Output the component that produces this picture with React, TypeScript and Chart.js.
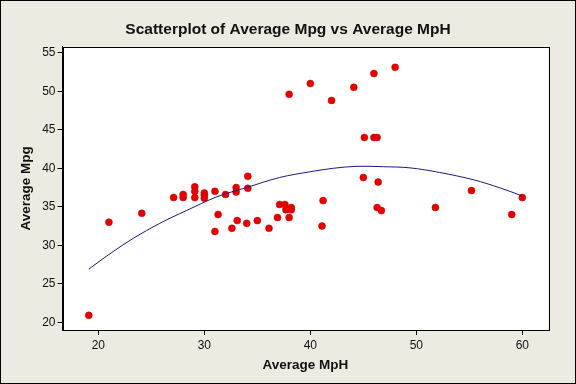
import React, { useEffect, useRef } from "react";
import { Chart, registerables } from "chart.js";

Chart.register(...registerables);

const mph = [19.1, 21.0, 24.1, 27.1, 28.0, 28.0, 29.1, 29.1, 29.1, 30.0, 30.0, 30.0, 31.0, 32.0, 33.0, 33.0, 34.1, 34.1, 31.3, 31.0, 32.6, 33.1, 34.0, 35.0, 36.1, 36.9, 37.1, 37.6, 37.7, 38.2, 38.2, 38.0, 38.0, 40.0, 42.0, 44.1, 46.0, 48.0, 45.1, 46.0, 46.3, 45.0, 46.4, 41.2, 41.1, 46.3, 46.7, 51.8, 55.2, 59.0, 60.0];
const mpg = [20.9, 33.0, 34.15, 36.2, 36.6, 36.2, 37.6, 37.0, 36.2, 36.8, 36.5, 36.1, 37.0, 36.6, 37.5, 36.9, 38.95, 37.4, 34.0, 31.8, 32.2, 33.2, 32.85, 33.2, 32.2, 33.6, 35.3, 35.3, 34.6, 34.9, 34.6, 33.6, 49.6, 51.0, 48.8, 50.5, 52.3, 53.1, 44.0, 44.0, 44.0, 38.8, 38.2, 35.8, 32.5, 34.9, 34.5, 34.9, 37.1, 34.0, 36.2];

const fitX = [19.1, 21.1, 23.3, 25.8, 28.3, 31.2, 34.0, 37.1, 40.0, 42.2, 44.4, 46.9, 49.4, 52.2, 55.4, 57.9, 60.0];
const fitY = [26.9, 28.9, 30.9, 32.85, 34.5, 36.3, 37.5, 38.8, 39.55, 40.0, 40.25, 40.2, 40.05, 39.45, 38.5, 37.45, 36.4];

const xTickValues = [20, 30, 40, 50, 60];
const yTickValues = [20, 25, 30, 35, 40, 45, 50, 55];

const titleText = "Scatterplot of Average Mpg vs Average MpH";
const xTitle = "Average MpH";
const yTitle = "Average Mpg";

const BG = "#EDEAE1";

const framePlugin = {
  id: "framePlugin",
  beforeDraw(chart: any) {
    const { ctx, chartArea, width, height } = chart;
    ctx.save();
    ctx.fillStyle = BG;
    ctx.fillRect(0, 0, width, height);
    ctx.fillStyle = "#ffffff";
    ctx.fillRect(chartArea.left, chartArea.top, chartArea.right - chartArea.left, chartArea.bottom - chartArea.top);
    ctx.strokeStyle = "#000";
    ctx.lineWidth = 1;
    ctx.strokeRect(0.5, 0.5, width - 1, height - 1);
    ctx.restore();
  },
  afterDraw(chart: any) {
    const { ctx, chartArea } = chart;
    ctx.save();
    ctx.strokeStyle = "#000";
    ctx.lineWidth = 1;
    ctx.strokeRect(Math.round(chartArea.left) + 0.5, Math.round(chartArea.top) + 0.5, Math.round(chartArea.right - chartArea.left), Math.round(chartArea.bottom - chartArea.top));
    ctx.fillStyle = "#111";
    ctx.font = "bold 15.5px 'Liberation Sans', Arial, sans-serif";
    ctx.textAlign = "center";
    ctx.textBaseline = "alphabetic";
    ctx.fillText(titleText, 288, 34);
    ctx.restore();
  },
};

export default function App() {
  const ref = useRef<HTMLCanvasElement | null>(null);
  useEffect(() => {
    document.body.style.margin = "0";
    if (!ref.current) return;
    const chart = new Chart(ref.current, {
      type: "scatter",
      data: {
        datasets: [
          {
            type: "line",
            data: fitX.map((x, i) => ({ x, y: fitY[i] })),
            borderColor: "#1a1a80",
            borderWidth: 1,
            pointRadius: 0,
            tension: 0.35,
            fill: false,
          } as any,
          {
            data: mph.map((x, i) => ({ x, y: mpg[i] })),
            backgroundColor: "#e30000",
            borderColor: "#d00000",
            borderWidth: 0.5,
            pointRadius: 3.5,
          },
        ],
      },
      options: {
        animation: false,
        responsive: false,
        devicePixelRatio: 1,
        layout: { padding: { top: 46.7, right: 27.7, bottom: 0, left: 0 } },
        plugins: { legend: { display: false }, tooltip: { enabled: false }, title: { display: false } },
        scales: {
          x: {
            type: "linear",
            min: 16.62,
            max: 62.45,
            afterBuildTicks: (s: any) => { s.ticks = xTickValues.map((v) => ({ value: v })); },
            afterFit: (s: any) => { s.height = 54; },
            grid: { drawOnChartArea: false, drawTicks: true, tickLength: 5, tickColor: "#000" },
            border: { display: true, color: "#000" },
            ticks: { color: "#111", padding: 3, font: { family: "'Liberation Sans', Arial, sans-serif", size: 12 }, maxRotation: 0 },
            title: { display: true, text: xTitle, color: "#111", font: { family: "'Liberation Sans', Arial, sans-serif", size: 13.5, weight: "bold" }, padding: { top: 0, bottom: 11 } },
          },
          y: {
            type: "linear",
            min: 19.0,
            max: 55.78,
            afterBuildTicks: (s: any) => { s.ticks = yTickValues.map((v) => ({ value: v })); },
            afterFit: (s: any) => { s.width = 62.5; },
            grid: { drawOnChartArea: false, drawTicks: true, tickLength: 5, tickColor: "#000" },
            border: { display: true, color: "#000" },
            ticks: { color: "#111", padding: 2, font: { family: "'Liberation Sans', Arial, sans-serif", size: 12 } },
            title: { display: true, text: yTitle, color: "#111", font: { family: "'Liberation Sans', Arial, sans-serif", size: 13.5, weight: "bold" }, padding: { top: 18, bottom: 0 } },
          },
        },
      } as any,
      plugins: [framePlugin],
    });
    return () => chart.destroy();
  }, []);
  return (
    <div style={{ width: 576, height: 384 }}>
      <canvas ref={ref} width={576} height={384} style={{ display: "block", width: 576, height: 384 }} />
    </div>
  );
}
